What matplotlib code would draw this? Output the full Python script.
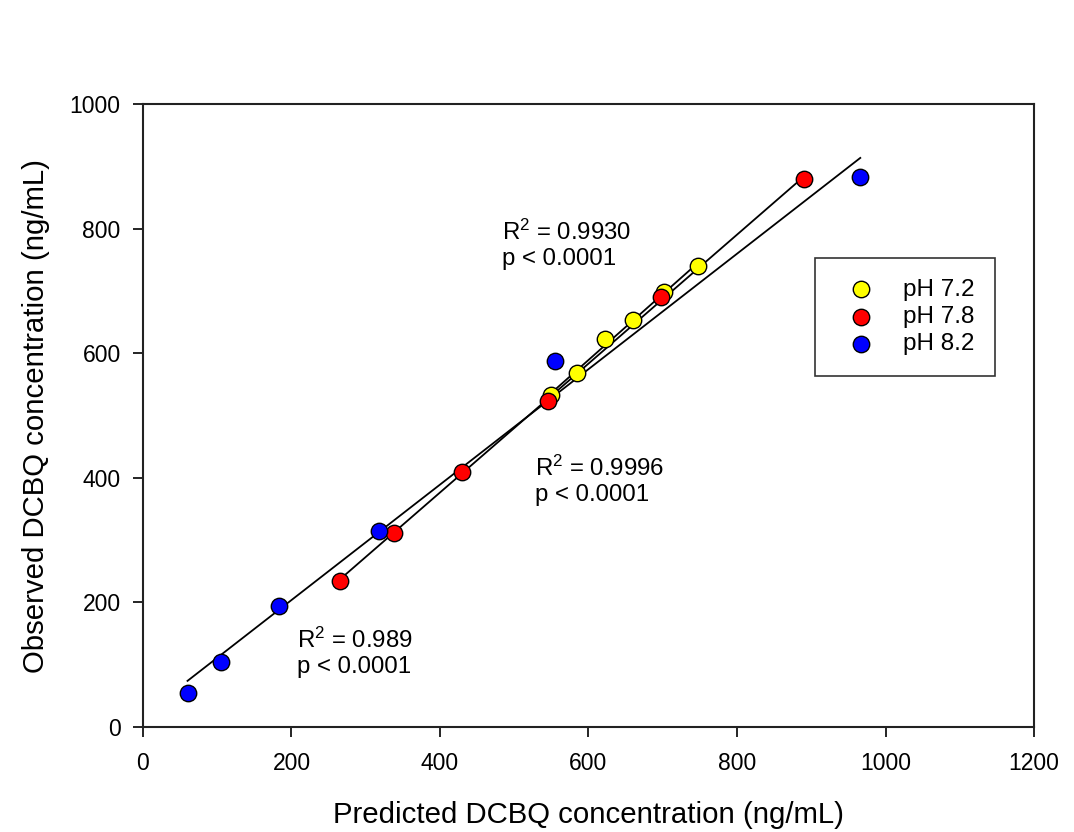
import numpy as np
import matplotlib
matplotlib.use("Agg")
import matplotlib.pyplot as plt

plt.rcParams['font.family'] = ['Liberation Sans', 'DejaVu Sans']
plt.rcParams['mathtext.fontset'] = 'custom'
plt.rcParams['mathtext.rm'] = 'Liberation Sans'
plt.rcParams['mathtext.it'] = 'Liberation Sans:italic'

# Predicted vs observed DCBQ (ng/mL) at three pH levels
ph72_pred = [550, 585, 622, 660, 702, 747]
ph72_obs = [533, 569, 622, 653, 699, 740]
ph78_pred = [265, 338, 430, 546, 698, 890]
ph78_obs = [235, 312, 410, 524, 691, 880]
ph82_pred = [60, 105, 183, 318, 555, 966]
ph82_obs = [54, 104, 194, 315, 587, 883]

series_labels = ['pH 7.2', 'pH 7.8', 'pH 8.2']
series_colors = ['#ffff00', '#ff0000', '#0000ff']
stats_text = ['R$^{\\mathrm{2}}$ = 0.9930\np < 0.0001',
              'R$^{\\mathrm{2}}$ = 0.9996\np < 0.0001',
              'R$^{\\mathrm{2}}$ = 0.989\np < 0.0001']
stats_pos = [(483, 814), (528, 436), (208, 160)]

x_ticks = [0, 200, 400, 600, 800, 1000, 1200]
y_ticks = [0, 200, 400, 600, 800, 1000]

fig = plt.figure(figsize=(10.74, 8.32), dpi=100)
ax = fig.add_axes([0.1331, 0.1262, 0.8297, 0.7488])

series = [(ph72_pred, ph72_obs), (ph78_pred, ph78_obs), (ph82_pred, ph82_obs)]
handles = []
for (xs, ys), lab, col in zip(series, series_labels, series_colors):
    xs = np.asarray(xs, float)
    ys = np.asarray(ys, float)
    slope, icpt = np.polyfit(xs, ys, 1)
    xl = np.array([xs.min(), xs.max()])
    ax.plot(xl, slope * xl + icpt, color='black', lw=1.3, zorder=2)

# markers drawn above all fitted lines
for (xs, ys), lab, col in zip(series, series_labels, series_colors):
    h = ax.scatter(xs, ys, s=140, c=col, edgecolors='black', linewidths=1.0,
                   zorder=3, label=lab)
    handles.append(h)

for txt, (tx, ty) in zip(stats_text, stats_pos):
    ax.text(tx, ty, txt, fontsize=17.3, va='top', ha='left', linespacing=1.2)

ax.set_xlim(0, 1200)
ax.set_ylim(0, 1000)
ax.set_xticks(x_ticks)
ax.set_yticks(y_ticks)
ax.tick_params(direction='out', length=7, width=1.2, labelsize=16.5,
               top=False, right=False)
ax.tick_params(axis='x', pad=11)
ax.tick_params(axis='y', pad=9)
for sp in ax.spines.values():
    sp.set_linewidth(1.5)
    sp.set_color('#222222')

ax.set_xlabel('Predicted DCBQ concentration (ng/mL)', fontsize=21.2, labelpad=19)
ax.set_ylabel('Observed DCBQ concentration (ng/mL)', fontsize=21.2, labelpad=14)

leg = ax.legend(handles=handles, loc='upper left',
                bbox_to_anchor=((815 - 143) / 891, 1 - (258 - 104) / 623),
                fontsize=17.5, frameon=True, fancybox=False, edgecolor='black',
                borderpad=0.85, handletextpad=0.7, labelspacing=0.22,
                borderaxespad=0, scatterpoints=1, handlelength=2.05)
leg.get_frame().set_linewidth(1.2)

fig.savefig('out.png', dpi=100, facecolor='white')
